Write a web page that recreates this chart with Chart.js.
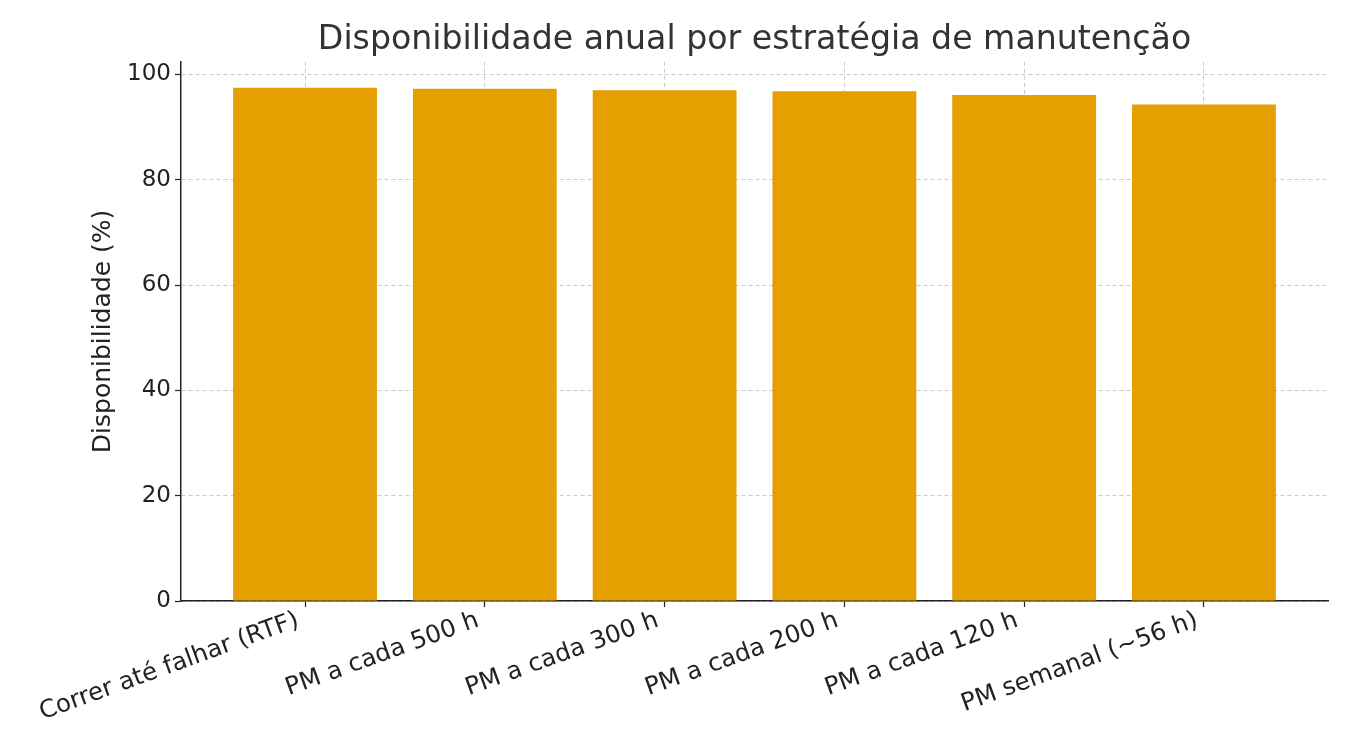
<!DOCTYPE html>
<html><head><meta charset="utf-8">
<script src="https://cdn.jsdelivr.net/npm/chart.js@4"></script>
<style>html,body{margin:0;padding:0;background:#fff}</style>
</head><body>
<canvas id="c" width="1350" height="750"></canvas>
<script>
const categories = ["Correr até falhar (RTF)", "PM a cada 500 h", "PM a cada 300 h", "PM a cada 200 h", "PM a cada 120 h", "PM semanal (~56 h)"];
const availability = [97.5, 97.3, 97.0, 96.8, 96.1, 94.3];
const yTicks = [0, 20, 40, 60, 80, 100];
const titleText = "Disponibilidade anual por estratégia de manutenção";
const yTitle = "Disponibilidade (%)";

const FONT = "'DejaVu Sans', sans-serif";
const gridCol = 'rgba(150,150,150,0.5)';

new Chart(document.getElementById('c'), {
  type: 'bar',
  data: {
    datasets: [{
      data: categories.map((c, i) => ({ x: i, y: availability[i] })),
      backgroundColor: '#E69F00',
      borderWidth: 0,
      barPercentage: 0.8,
      categoryPercentage: 1.0
    }]
  },
  options: {
    responsive: false,
    devicePixelRatio: 1,
    animation: false,
    layout: { padding: { left: 0, right: 22, top: 0, bottom: 0 } },
    plugins: {
      legend: { display: false },
      tooltip: { enabled: false },
      title: {
        display: true,
        text: titleText,
        fullSize: false,
        color: '#333',
        font: { family: FONT, size: 33.2, weight: 'normal' },
        padding: { top: 20, bottom: 2 }
      }
    },
    scales: {
      x: {
        type: 'linear',
        min: -0.69,
        max: 5.69,
        offset: false,
        z: 1,
        afterBuildTicks: (s) => { s.ticks = categories.map((c, i) => ({ value: i })); },
        afterFit: (s) => { s.height = 149; },
        ticks: {
          autoSkip: false,
          maxRotation: 20,
          minRotation: 20,
          padding: -1,
          labelOffset: -7,
          color: '#222',
          font: { family: FONT, size: 24.5 },
          callback: (v) => categories[v]
        },
        grid: {
          offset: false,
          color: gridCol,
          lineWidth: 1,
          tickLength: 6,
          tickColor: '#222',
          tickWidth: 1.2,
          tickBorderDash: []
        },
        border: { display: true, color: '#222', width: 1.5, dash: [4, 3] }
      },
      y: {
        min: 0,
        max: 102.4,
        z: 1,
        afterBuildTicks: (s) => { s.ticks = yTicks.map(v => ({ value: v })); },
        afterFit: (s) => { s.width = 181; },
        ticks: {
          padding: 4,
          color: '#222',
          font: { family: FONT, size: 23 }
        },
        title: {
          display: true,
          text: yTitle,
          color: '#222',
          font: { family: FONT, size: 25 },
          padding: { top: 88, bottom: 0 }
        },
        grid: {
          color: gridCol,
          lineWidth: 1,
          tickLength: 6,
          tickColor: '#222',
          tickWidth: 1.2,
          tickBorderDash: []
        },
        border: { display: true, color: '#222', width: 1.5, dash: [4, 3] }
      }
    }
  }
});
</script>
</body></html>
